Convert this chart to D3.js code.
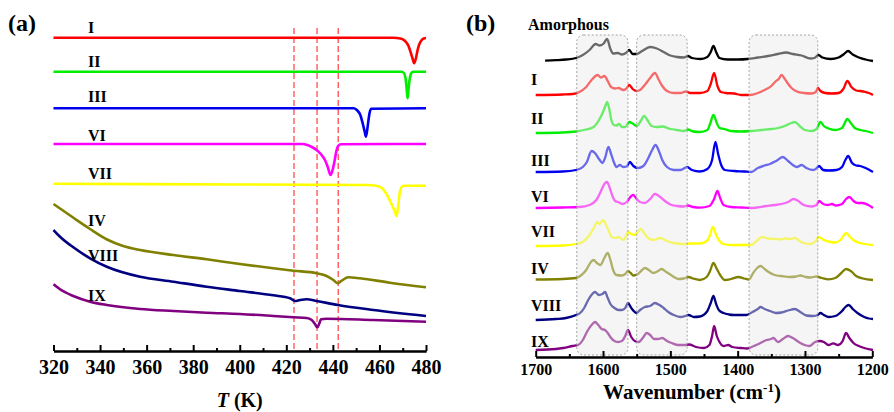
<!DOCTYPE html>
<html><head><meta charset="utf-8">
<script src="https://cdn.jsdelivr.net/npm/d3@7"></script>
<style>
html,body{margin:0;padding:0;background:#fff;}
svg{display:block;}
text{font-family:"Liberation Serif","Times New Roman",serif;font-weight:bold;fill:#000;}
</style></head>
<body><svg id="c" width="894" height="412"></svg>
<script>
// ===== DATA: panel (a) DSC curves, [T (K), heat flow (a.u.)] =====
const dscNames = ["I","II","III","VI","VII","IV","VIII","IX"];
const dsc_I = [[320,313.3],[466,313.3],[469,312.5],[471,310],[472.5,305],[473.5,298],[474.3,292],[474.9,287.7],[475.6,292],[476.3,300],[477,306],[478,310.5],[479,312.5],[480,313]];
const dsc_II = [[320,279.3],[469.5,279.3],[470.5,278],[471.2,273],[471.7,262],[472.1,252.7],[472.5,262],[473,272],[473.6,277.5],[474.5,279.3],[480,279.3]];
const dsc_III = [[320,242.7],[449,242.7],[450.5,240.5],[451.8,236],[452.8,227.7],[453.6,220],[454.2,214.3],[454.8,222],[455.3,231],[455.8,238.5],[456.5,242.3],[480,242.7]];
const dsc_VI = [[320,207],[427,207],[429,206],[431,204],[433,201],[435,196.5],[436.6,191],[437.8,184],[439,176],[440,182],[440.8,191],[441.5,200],[442.2,205],[443.5,206.8],[480,207]];
const dsc_VII = [[320,167.3],[400,166.5],[455,166],[458,165.5],[461,163],[463,157],[465,148],[466.5,140],[467.4,135],[468.1,146],[468.7,158],[469.4,163.5],[470.2,165.3],[480,165.3]];
const dsc_IV = [[320,147],[328.4,133.5],[335.7,122],[343,111.5],[349.9,105],[357.2,101],[371.5,96],[385.8,91.7],[400.1,87],[414.4,82.7],[423,80.3],[433,77.7],[437.3,75],[440.2,71],[442.1,67.7],[443.8,70.3],[446.6,73.7],[451.6,72.7],[464.5,68.3],[480,63.7]];
const dsc_VIII = [[320,121],[322.8,114.3],[328.5,103.7],[335.7,92.7],[342.9,84.3],[357.2,74.3],[371.5,69.3],[385.8,64.3],[400.1,60],[414.4,55.7],[421.6,52.7],[423.7,50],[425.9,51],[428.7,51.7],[433,50],[442.1,46],[457.4,41],[480,35]];
const dsc_IX = [[320,66.7],[322.8,61.7],[328.5,55],[335.7,49.3],[342.9,46],[357.2,42],[371.5,40],[385.8,38.3],[400.1,37],[414.4,35],[423,33.7],[428.7,33],[430.9,31],[432.3,27],[433.3,23.7],[434.2,27.7],[434.9,31.7],[437.3,32.3],[457.4,31],[480,29.3]];
const transitionT = [423.3, 433.2, 442.3];
const tempTicks = [320,340,360,380,400,420,440,460,480];

// ===== DATA: panel (b) IR spectra, [wavenumber (cm-1), absorbance (a.u.)] =====
const irNames = ["Amorphous","I","II","III","VI","VII","IV","VIII","IX"];
const irOffsets = [296,262,224,185,149,111,77,37,7];
const ir_Amorphous = [[1686,0.3],[1670,0.8],[1655,1.5],[1640,3],[1630,6],[1620,11],[1611,17],[1605,15.5],[1599,17.5],[1594,22],[1589,12],[1585,7.5],[1578,8],[1572,6.5],[1566,8],[1561,11],[1556,7],[1550,7],[1542,10],[1530,14],[1520,12.5],[1510,9],[1500,5.5],[1490,4],[1480,3.5],[1474,5],[1468,3],[1455,2],[1445,4],[1440,9],[1436,15],[1432,9],[1427,3],[1415,1.5],[1400,1.5],[1385,2],[1370,3.5],[1355,5],[1340,7],[1328,8.5],[1318,7],[1305,5.5],[1292,2.5],[1286,3],[1280,6],[1274,3.5],[1262,2],[1250,3.5],[1242,7],[1236,10],[1229,6.5],[1220,3.5],[1210,1.5],[1199,0]];
const ir_I = [[1700,0],[1660,0.5],[1645,1],[1635,3],[1625,8],[1617,15],[1608,20],[1603,17.5],[1598,19],[1593,14],[1588,8],[1582,6.5],[1577,7],[1570,5],[1566,6],[1561,10],[1556,6],[1550,4],[1545,5],[1538,10],[1530,17],[1523,22],[1517,15],[1512,9],[1505,4],[1495,2],[1485,2],[1477,3.5],[1470,2],[1456,2],[1445,4],[1440,11],[1435,22],[1430,9],[1425,3],[1418,2],[1405,1.5],[1395,0],[1382,0],[1370,2],[1360,5],[1350,9],[1343,14],[1339,16],[1335,20],[1331,17],[1326,12],[1320,7],[1312,3.5],[1302,2],[1290,1.5],[1284,3],[1281,7],[1277,4],[1270,2],[1260,1.5],[1250,2],[1243,6],[1237,14],[1231,8],[1224,4.5],[1218,4],[1210,3],[1205,2],[1199,0]];
const ir_II = [[1700,0],[1660,0.5],[1640,1.5],[1625,3.5],[1614,6],[1606,13],[1600,21],[1596,28],[1594,31],[1591,25],[1588,14],[1584,8],[1580,7.5],[1576,9],[1572,6],[1567,6],[1561,11],[1556,9.5],[1550,7],[1544,12],[1539,17],[1534,13],[1528,7],[1520,6],[1512,6.5],[1500,4],[1490,3],[1480,2],[1474,3.5],[1466,1.5],[1456,1],[1445,3],[1441,9],[1436,18],[1431,10],[1427,5],[1420,4],[1410,2],[1395,1.5],[1380,2],[1365,3],[1350,4],[1340,5],[1330,7],[1320,10],[1315,11],[1308,7],[1300,3],[1290,2],[1283,4],[1277,11],[1272,7],[1265,4.5],[1255,3],[1245,5],[1237,14],[1232,10],[1226,5],[1218,3],[1210,2],[1199,0]];
const ir_III = [[1700,0],[1660,0.5],[1640,2],[1630,5],[1624,10],[1617,21],[1612,19],[1606,13],[1601,9],[1597,14],[1592,25],[1588,18],[1584,10],[1580,5],[1575,7],[1570,5],[1565,5.5],[1560,10],[1555,6],[1548,4],[1540,6],[1532,15],[1527,22],[1522,27],[1517,21],[1512,12],[1505,5],[1495,2],[1485,2],[1475,5],[1468,2],[1456,0.5],[1445,3],[1438,12],[1433,30],[1429,18],[1425,8],[1419,2],[1405,1],[1390,0.5],[1380,0],[1370,4],[1360,6.5],[1352,8],[1343,11],[1333,15],[1325,11],[1318,7],[1312,5],[1305,7],[1298,4],[1288,2],[1284,3],[1279,6],[1273,2],[1265,1.5],[1253,2],[1245,5],[1240,12],[1236,16],[1230,9],[1224,6.5],[1218,6],[1210,4],[1199,0]];
const ir_VI = [[1700,0],[1660,0.5],[1635,1],[1620,3],[1610,8],[1603,17],[1598,24],[1594,26],[1590,20],[1586,12],[1582,7],[1578,6],[1571,4],[1565,6],[1558,12],[1555,13],[1550,9],[1545,6],[1538,5],[1530,9],[1523,14],[1515,11],[1508,7],[1500,3.5],[1490,2],[1480,1.5],[1474,2.5],[1466,1],[1456,0.3],[1442,2],[1435,9],[1430,17],[1426,10],[1421,3],[1410,1],[1395,0.5],[1380,0],[1357,2],[1345,3],[1335,4],[1325,6],[1317,9],[1310,7],[1302,3],[1290,1.5],[1283,3],[1279,7],[1273,4],[1266,3],[1260,4],[1254,2.5],[1245,4],[1239,9],[1234,11],[1228,7],[1222,5],[1214,5],[1206,3],[1199,0]];
const ir_VII = [[1700,0],[1660,0.5],[1640,2],[1630,4],[1620,11],[1613,19],[1609,24],[1605,22],[1600,26],[1596,22],[1592,16],[1587,9],[1582,8],[1577,9],[1570,6],[1567,8],[1563,14],[1558,12],[1554,11],[1548,14],[1544,17],[1539,13],[1533,8],[1525,6],[1515,8],[1505,5],[1495,3],[1480,2],[1470,2.5],[1456,2.5],[1446,5],[1441,11],[1437,19],[1432,11],[1427,5],[1421,2],[1410,1],[1390,1],[1380,1],[1372,5],[1364,9],[1355,7.5],[1345,7],[1337,6.5],[1330,7.5],[1322,7],[1315,8],[1308,5],[1302,3],[1292,2],[1284,5],[1280,9],[1272,6],[1262,4],[1255,3.5],[1246,7],[1239,13],[1233,9],[1226,5],[1215,2.5],[1199,1]];
const ir_IV = [[1700,0.5],[1660,1],[1640,2],[1632,5],[1625,10],[1618,18],[1614,20],[1609,17],[1604,15],[1598,22],[1593,27],[1589,20],[1585,10],[1580,5],[1572,4.5],[1567,6],[1563,9],[1559,7],[1555,4.5],[1548,6],[1542,10],[1538,12],[1532,10],[1525,7],[1518,9],[1513,11],[1506,8],[1498,4.5],[1488,1],[1480,1.5],[1473,3],[1466,1.5],[1456,0],[1446,3],[1441,9],[1436,17],[1431,11],[1426,5],[1419,0],[1410,1],[1399,3],[1390,1.5],[1383,0.5],[1377,7],[1371,12],[1366,14],[1360,11],[1354,8],[1345,5],[1335,4],[1322,3],[1313,3.5],[1307,4.5],[1299,3],[1292,2.5],[1283,3.5],[1275,2],[1265,0.7],[1255,2],[1246,7],[1239,11],[1232,9],[1224,4],[1214,1.5],[1199,0]];
const ir_VIII = [[1700,0],[1670,1],[1655,2],[1640,5],[1634,7],[1628,12],[1622,20],[1616,26],[1612,28],[1606,25],[1601,26],[1597,28],[1593,22],[1589,16],[1583,12],[1577,10],[1572,10],[1567,12],[1563,17],[1558,12],[1550,7],[1545,10],[1538,13],[1530,14],[1523,17],[1516,15],[1510,12],[1503,8],[1495,5],[1485,3],[1478,4],[1473,5],[1465,3],[1456,3.5],[1445,9],[1440,17],[1436,24],[1432,16],[1428,10],[1421,7],[1413,5.5],[1406,5],[1395,5],[1387,5],[1378,8],[1370,11],[1366,13],[1360,11],[1352,9],[1343,7],[1335,7.5],[1325,9.5],[1315,11],[1307,8],[1298,4.5],[1288,4],[1281,5],[1277,7],[1272,5],[1265,3],[1255,4],[1245,9],[1240,13],[1235,15],[1229,11],[1222,7],[1212,3],[1205,1.5],[1199,1]];
const ir_IX = [[1700,0],[1670,1],[1659,2],[1645,4],[1637,5],[1630,10],[1624,18],[1617,25],[1612,28],[1607,25],[1602,21],[1597,20],[1593,17],[1588,12],[1583,9],[1578,8],[1572,9],[1567,14],[1563,20],[1558,13],[1553,9],[1547,8],[1541,12],[1535,17],[1530,15],[1524,11],[1518,11],[1512,12],[1505,9],[1498,7],[1488,5],[1478,5],[1472,5.5],[1462,3],[1450,2],[1442,5],[1438,14],[1435,24],[1431,14],[1427,8],[1421,4],[1414,5],[1408,3],[1395,2],[1386,1.5],[1376,4],[1369,6],[1362,8.5],[1357,10],[1350,11],[1347,12],[1340,8],[1333,11],[1325,14],[1318,12],[1307,7],[1298,4.5],[1293,4],[1285,8],[1278,9],[1272,8],[1265,5],[1258,6.7],[1251,5],[1244,9],[1239,17],[1234,12],[1228,7],[1220,4],[1212,2],[1199,0]];
const irRegions = [[1639,1563],[1550,1475],[1383,1281]];
const waveTicks = [1700,1600,1500,1400,1300,1200];

// ===== STYLE / LAYOUT =====
const dscSeries = [dsc_I,dsc_II,dsc_III,dsc_VI,dsc_VII,dsc_IV,dsc_VIII,dsc_IX];
const dscColors = ["#ff0000","#00ee00","#0000ee","#ff00ff","#ffff00","#808000","#000080","#800080"];
const dscLabelY = [318,284,249,210,172,125,90,50];
const irSeries = [ir_Amorphous,ir_I,ir_II,ir_III,ir_VI,ir_VII,ir_IV,ir_VIII,ir_IX];
const irColors = ["#000000","#ff0000","#00ee00","#0000ee","#ff00ff","#ffff00","#808000","#000080","#800080"];
const irLabelY = [327,272,233,191,155,120,83,46,10];

const svg = d3.select("#c");
const xA = d3.scaleLinear().domain([320,480]).range([53.5,426]);
const yA = d3.scaleLinear().domain([0,330]).range([351,21]);
const xB = d3.scaleLinear().domain([1700,1200]).range([535.7,872.3]);
const yB = d3.scaleLinear().domain([0,322]).range([357,35]);

// ---- panel (a)
const gA = svg.append("g");
gA.selectAll("line.dash").data(transitionT).join("line")
  .attr("x1",d=>xA(d)).attr("x2",d=>xA(d)).attr("y1",yA(323)).attr("y2",yA(0))
  .attr("stroke","#ff4d4d").attr("stroke-width",1.3).attr("stroke-dasharray","6,3");
const lineA = d3.line().x(d=>xA(d[0])).y(d=>yA(d[1])).curve(d3.curveMonotoneX);
dscSeries.forEach((s,i)=>{
  gA.append("path").attr("d",lineA(s)).attr("fill","none").attr("stroke",dscColors[i]).attr("stroke-width",2.6);
});
dscNames.forEach((n,i)=>{
  gA.append("text").attr("x",xA(334.8)).attr("y",yA(dscLabelY[i])).attr("font-size",16).text(n);
});
const axA = gA.append("g").attr("transform",`translate(0,${yA(0)})`)
  .call(d3.axisBottom(xA).tickValues(d3.range(330,480,20)).tickSizeInner(-3).tickSizeOuter(0).tickFormat(""));
const axA2 = gA.append("g").attr("transform",`translate(0,${yA(0)})`)
  .call(d3.axisBottom(xA).tickValues(tempTicks).tickSizeInner(-6).tickSizeOuter(0).tickPadding(9).tickFormat(d3.format("d")));
[axA,axA2].forEach(a=>{a.attr("font-family",null).attr("font-size",null);
  a.select(".domain").attr("stroke","#000").attr("stroke-width",2.2);
  a.selectAll(".tick line").attr("stroke","#000").attr("stroke-width",2);});
axA2.selectAll(".tick text").attr("font-size",20).attr("fill","#000");
const tA = gA.append("text").attr("x",(xA(320)+xA(480))/2).attr("y",407).attr("text-anchor","middle").attr("font-size",20);
tA.append("tspan").attr("font-style","italic").text("T");
tA.append("tspan").text(" (K)");
gA.append("text").attr("x",8).attr("y",31).attr("font-size",24).text("(a)");

// ---- panel (b)
const gB = svg.append("g");
const lineB = d3.line().x(d=>xB(d[0])).y(d=>d[1]).curve(d3.curveMonotoneX);
irSeries.forEach((s,i)=>{
  const pts = s.map(p=>[p[0], yB(p[1]+irOffsets[i])]);
  gB.append("path").attr("d",lineB(pts)).attr("fill","none").attr("stroke",irColors[i]).attr("stroke-width",2.3).attr("stroke-linejoin","round");
});
gB.selectAll("rect.reg").data(irRegions).join("rect")
  .attr("x",d=>xB(d[0])).attr("width",d=>xB(d[1])-xB(d[0]))
  .attr("y",yB(322)).attr("height",yB(2)-yB(322)).attr("rx",7).attr("ry",7)
  .attr("fill","rgb(232,232,232)").attr("fill-opacity",0.45)
  .attr("stroke","#9a9a9a").attr("stroke-width",0.9).attr("stroke-dasharray","2,2");
irNames.forEach((n,i)=>{
  gB.append("text").attr("x",n==="Amorphous"?528:531).attr("y",yB(irLabelY[i])).attr("font-size",16).text(n);
});
const axB = gB.append("g").attr("transform",`translate(0,${yB(0)})`)
  .call(d3.axisBottom(xB).tickValues(d3.range(1650,1200,-100)).tickSizeInner(-3).tickSizeOuter(0).tickFormat(""));
const axB2 = gB.append("g").attr("transform",`translate(0,${yB(0)})`)
  .call(d3.axisBottom(xB).tickValues(waveTicks).tickSizeInner(-6).tickSizeOuter(0).tickPadding(7).tickFormat(d3.format("d")));
[axB,axB2].forEach(a=>{a.attr("font-family",null).attr("font-size",null);
  a.select(".domain").attr("stroke","#000").attr("stroke-width",2.2);
  a.selectAll(".tick line").attr("stroke","#000").attr("stroke-width",2);});
axB2.selectAll(".tick text").attr("font-size",16).attr("fill","#000");
const tB = gB.append("text").attr("x",692).attr("y",399).attr("text-anchor","middle").attr("font-size",21);
tB.append("tspan").text("Wavenumber (cm");
tB.append("tspan").attr("font-size",13).attr("dy",-7).text("-1");
tB.append("tspan").attr("dy",7).text(")");
gB.append("text").attr("x",466).attr("y",31).attr("font-size",24).text("(b)");
</script></body></html>
